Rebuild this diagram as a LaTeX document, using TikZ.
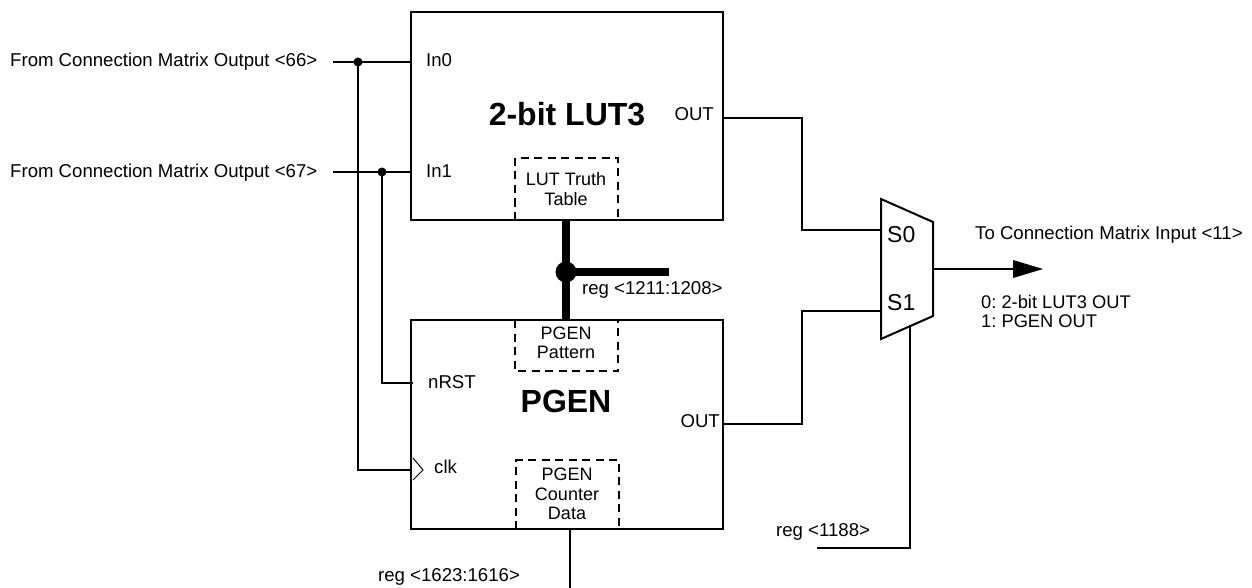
\documentclass[tikz,border=0pt]{standalone}
\usepackage{fontspec}
\setmainfont{Liberation Sans}
\usetikzlibrary{arrows.meta}
\frenchspacing
\tikzset{
  wire/.style={line width=2},
  block/.style={draw,line width=2,inner sep=0,outer sep=0},
  dashbox/.style={line width=1.8,dash pattern=on 8 off 5.5},
  txt/.style={inner sep=0,font=\fontsize{18.6}{21}\selectfont},
  midtxt/.style={inner sep=0,align=center,font=\fontsize{18}{19.5}\selectfont},
  title/.style={inner sep=0,font=\fontsize{32}{34}\selectfont\bfseries},
  dotn/.style={circle,fill=black,inner sep=0,minimum size=9},
  smalltxt/.style={inner sep=0,align=left,font=\fontsize{18.3}{19}\selectfont},
  muxtxt/.style={inner sep=0,anchor=west,font=\fontsize{23}{25}\selectfont}
}
\begin{document}
\begin{tikzpicture}[x=1pt,y=-1pt]
\useasboundingbox[fill=white] (0,0) rectangle (1252,588);
% blocks
\node[block,anchor=north west,minimum width=312,minimum height=208] (lut) at (411,12) {};
\node[block,anchor=north west,minimum width=312,minimum height=209] (pgen) at (411,320) {};
% dashed sub-blocks
\coordinate (ta) at (515,220); \coordinate (tb) at (515,158); \coordinate (tc) at (618,158); \coordinate (td) at (618,220);
\draw[dashbox] (ta) -- (tb) -- (tc) -- (td);
\coordinate (pa) at (515,320); \coordinate (pb) at (515,371); \coordinate (pc) at (618,371); \coordinate (pd) at (618,320);
\draw[dashbox] (pa) -- (pb) -- (pc) -- (pd);
\coordinate (ca) at (516,529); \coordinate (cb) at (516,460); \coordinate (cc) at (619,460); \coordinate (cd) at (619,529);
\draw[dashbox] (ca) -- (cb) -- (cc) -- (cd);
% texts
\node[title] (t1) at (567,114) {2-bit LUT3};
\node[title] (t2) at (566,401) {PGEN};
\node[midtxt] (n1) at (566,189) {LUT Truth\\Table};
\node[midtxt] (n2) at (566,343) {PGEN\\Pattern};
\node[midtxt] (n3) at (567,494) {PGEN\\Counter\\Data};
\node[txt,anchor=west] (in0) at (426,60) {In0};
\node[txt,anchor=west] (in1) at (426,171) {In1};
\node[txt,anchor=east] (lout) at (714,114) {OUT};
\node[txt,anchor=east] (pout) at (720,421) {OUT};
\node[txt,anchor=west] (nrst) at (428,382) {nRST};
\node[txt,anchor=west] (clk) at (434,467) {clk};
\node[txt,anchor=west] (l66) at (10,62) {From Connection Matrix Output <66>};
\node[txt,anchor=west] (l67) at (10,173) {From Connection Matrix Output <67>};
\node[txt,anchor=west] (r1) at (582,290) {reg <1211:1208>};
\node[txt,anchor=west] (r2) at (378,577) {reg <1623:1616>};
\node[txt,anchor=west] (r3) at (776,532) {reg <1188>};
\node[txt,anchor=west] (toc) at (975,235) {To Connection Matrix Input <11>};
\node[smalltxt,anchor=north west] (leg) at (981,295) {0: 2-bit LUT3 OUT\\1: PGEN OUT};
% inputs
\coordinate (i0) at (333,62); \coordinate (i1) at (333,172);
\coordinate (j0) at (358,62); \coordinate (j1) at (382,172);
\draw[wire] (i0) -- (411,62);
\draw[wire] (i1) -- (411,172);
\draw[wire] (j0) -- (358,470) -- (411,470);
\draw[wire] (j1) -- (382,383) -- (413,383);
\node[dotn] (d0) at (j0) {};
\node[dotn] (d1) at (j1) {};
% clock symbol
\coordinate (ck1) at (413,458); \coordinate (ck2) at (423,470); \coordinate (ck3) at (413,480);
\draw[line width=1] (ck1) -- (ck2) -- (ck3);
% bus
\coordinate (b0) at (566,272); \coordinate (b1) at (669,272);
\draw[line width=8] (566,220) -- (566,320);
\draw[line width=8] (b0) -- (b1);
\node[circle,fill=black,inner sep=0,minimum size=21] (bd) at (b0) {};
% mux
\coordinate (m1) at (881,199); \coordinate (m2) at (933,222); \coordinate (m3) at (933,316); \coordinate (m4) at (881,339);
\draw[wire,line join=miter] (m1) -- (m2) -- (m3) -- (m4) -- cycle;
\node[muxtxt] (s0) at (887,235) {S0};
\node[muxtxt] (s1) at (887,303) {S1};
% routes
\draw[wire] (723,118) -- (802,118) -- (802,230) -- (881,230);
\draw[wire] (723,424) -- (802,424) -- (802,311) -- (881,311);
\draw[wire] (817,548) -- (910,548) -- (910,325);
\draw[wire] (570,529) -- (570,588);
% output
\coordinate (o0) at (933,269); \coordinate (o1) at (1013,269); \coordinate (o2) at (1043,269);
\draw[wire] (o0) -- (o1);
\fill (1013,260) -- (o2) -- (1013,278) -- cycle;
\end{tikzpicture}
\end{document}
